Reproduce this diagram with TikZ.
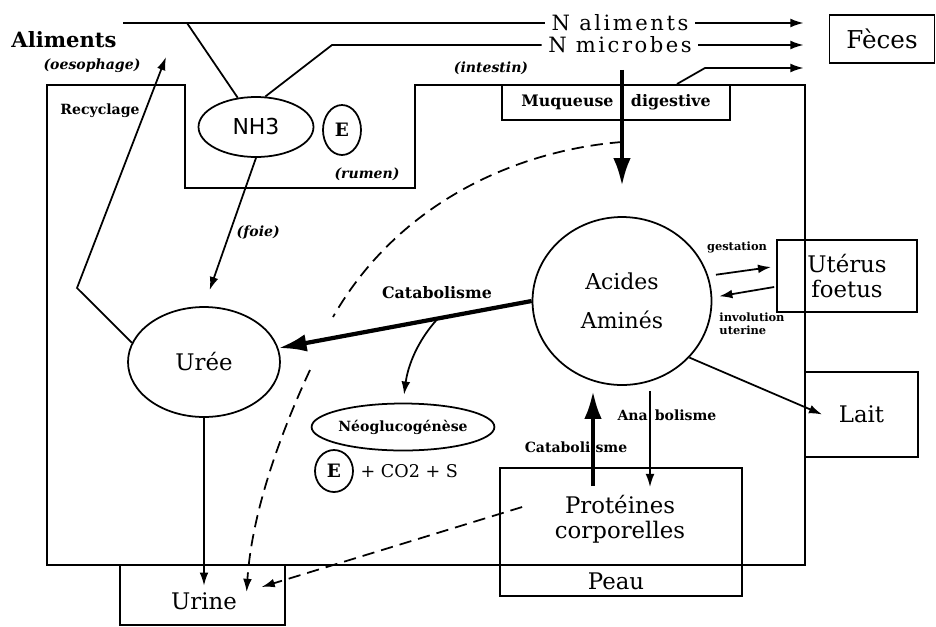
\documentclass[tikz,border=0pt]{standalone}
\usepackage{fontspec}
\setmainfont{DejaVu Serif}
\newfontfamily\nhfont{DejaVu Sans}
\usetikzlibrary{arrows.meta,calc,shapes.geometric}
\tikzset{
    fleche/.style={-{Latex[length=7.5pt,width=5pt]},line width=1pt},
    grosse/.style={-{Latex[length=16pt,width=10pt]},line width=2.4pt},
    tirets/.style={-{Latex[length=7.5pt,width=5pt]},line width=1pt,dash pattern=on 7pt off 4pt},
    boite/.style={draw,line width=1pt,rectangle,inner sep=0pt},
    ovale/.style={draw,line width=1pt,ellipse,inner sep=0pt},
    petit/.style={font=\fontsize{8}{9}\selectfont\bfseries},
    organe/.style={font=\fontsize{8}{9}\selectfont\bfseries\itshape},
    gros/.style={font=\fontsize{13}{14}\selectfont,align=center},
    azote/.style={font=\fontsize{12}{14}\selectfont\addfontfeature{LetterSpace=12}},
  }
\begin{document}
\begin{tikzpicture}[x=0.02cm,y=-0.02cm,line width=1pt]
			\useasboundingbox (0,0) rectangle (936,626);
			%corps de l'animal
			\draw (47,85) -- (185,85) -- (185,188) -- (415,188) -- (415,85) -- (805,85) -- (805,565) -- (47,565) -- cycle;

			%entrees et feces
			\node[font=\fontsize{12}{14}\selectfont\bfseries] (aliments) at (64,40) {Aliments};
			\node[organe] (oeso) at (92,66) {(oesophage)};
			\node[azote] (nalim) at (620,23) {N aliments};
			\node[azote] (nmicro) at (620,45) {N microbes};
			\node[boite,minimum width=2.1cm,minimum height=0.96cm,font=\fontsize{14}{16}\selectfont] (feces) at (882,39) {Fèces};
			\node[organe] (intestin) at (491,68) {(intestin)};
			\node[boite,minimum width=4.56cm,minimum height=0.7cm,font=\fontsize{9}{11}\selectfont\bfseries] (muq) at (616,102.5) {Muqueuse\hspace{0.35cm}digestive};
			\coordinate (a1) at (187,23);
			\coordinate (a2) at (332,45);
			\coordinate (m1) at (677,84);
			\coordinate (m2) at (705,68);
			\draw (aliments.east |- nalim) -- (nalim.west);
			\draw[fleche,shorten >=0.5cm] (nalim.east) -- (nalim.east -| feces.west);
			\draw[fleche,shorten >=0.5cm] (nmicro.east) -- (nmicro.east -| feces.west);
			\draw[fleche,shorten >=0.5cm] (m1) -- (m2) -- (m2 -| feces.west);

			%rumen
			\node[ovale,minimum width=2.3cm,minimum height=1.2cm,font=\nhfont\fontsize{12.5}{14}\selectfont] (nh3) at (256,127) {NH3};
			\node[ovale,minimum width=0.76cm,minimum height=1cm,font=\fontsize{10.5}{12}\selectfont\bfseries] (e1) at (342,130) {E};
			\node[organe] (rumen) at (367,174) {(rumen)};
			\node[petit] (recyc) at (100,111) {Recyclage};
			\draw (a1) -- (nh3.122);
			\draw (nh3.73) -- (a2) -- (nmicro.west);

			%uree
			\node[ovale,minimum width=3.04cm,minimum height=2.2cm,font=\fontsize{13}{15}\selectfont] (uree) at (204,362) {Urée};
			\coordinate (r1) at (77,288);
			\coordinate (r2) at (166,57);
			\draw[fleche] (uree.165) -- (r1) -- (r2);
			\draw[fleche,shorten >=0.34cm] (nh3.south) -- node[organe,right] (foie) {(foie)} (uree.north);

			%acides amines
			\node[ovale,minimum width=3.58cm,minimum height=3.36cm,align=center,font=\fontsize{12.5}{22}\selectfont] (aa) at (622,301) {Acides\\Aminés};
			\draw[grosse,shorten <=0.2cm] (nmicro.south -| aa.north) -- ($(aa.north)+(0,-30)$);
			\draw[grosse] (aa.west) -- coordinate[pos=0.37] (cat1) (uree);
			\node[font=\fontsize{9}{11}\selectfont\bfseries] (catlbl) at (437,293) {Catabolisme};

			%neoglucogenese
			\node[ovale,minimum width=3.14cm,minimum height=0.94cm,petit] (neo) at (403,427) {Néoglucogénèse};
			\node[ovale,minimum width=0.76cm,minimum height=0.84cm,font=\fontsize{10.5}{12}\selectfont\bfseries] (e2) at (334,471) {E};
			\node[anchor=west,font=\fontsize{10}{12}\selectfont] (co2) at (e2.east) {+ CO2 + S};
			\draw[fleche,shorten >=0.16cm] (cat1) .. controls (418,340) and (408,365) .. (neo.north);

			%uterus et lait
			\node[boite,minimum width=2.8cm,minimum height=1.44cm,gros] (ut) at (847,276) {Utérus\\foetus};
			\node[boite,minimum width=2.26cm,minimum height=1.7cm,gros] (lait) at (861.5,414.5) {Lait};
			\node[font=\fontsize{6.5}{7.5}\selectfont\bfseries] (gest) at (737,247) {gestation};
			\node[font=\fontsize{6.5}{7.5}\selectfont\bfseries,align=left] (invol) at (752,324) {involution\\uterine};
			\draw[fleche] ($(aa.17)+(8,0)$) -- ($(ut.west)+(-5,-9)$);
			\draw[fleche] ($(ut.west)+(-2,11)$) -- ($(aa.3)+(7,0)$);
			\draw[fleche] (aa.-40) -- ($(lait.west)+(18,0)$);

			%proteines
			\node[boite,minimum width=4.84cm,minimum height=2.56cm] (prot) at (621,532) {};
			\node[gros] (prottxt) at (620,519) {Protéines\\corporelles};
			\node[gros] (peau) at (616,581) {Peau};
			\draw[grosse] ($(prot.north)+(-28,19)$) -- ($(aa.south)+(-29,5)$);
			\draw[fleche] ($(aa.south)+(28,5)$) -- ($(prot.north)+(29,20)$);
			\node[petit] (ana) at (667,415) {Ana\hspace{0.14cm}bolisme};
			\node[petit] (catab) at (576,447) {Cataboli\hspace{0.1cm}sme};

			%urine
			\node[boite,minimum width=3.3cm,minimum height=1.2cm] (urine) at (202.5,595) {};
			\node[gros] (urtxt) at (204,601) {Urine};
			\draw[fleche] (uree.south) -- (urtxt.north);
			\coordinate (d0) at (622,142);
			\coordinate (d1) at (333,317);
			\coordinate (d2) at (310,370);
			\draw[tirets,-] (d0) .. controls (520,150) and (400,200) .. (d1);
			\draw[tirets] (d2) .. controls (282,430) and (252,510) .. ($(urtxt.east)+(3,-9)$);
			\draw[tirets] ($(prot.west)+(23,-25)$) -- ($(urtxt.east)+(18,-14)$);
\end{tikzpicture}
\end{document}
